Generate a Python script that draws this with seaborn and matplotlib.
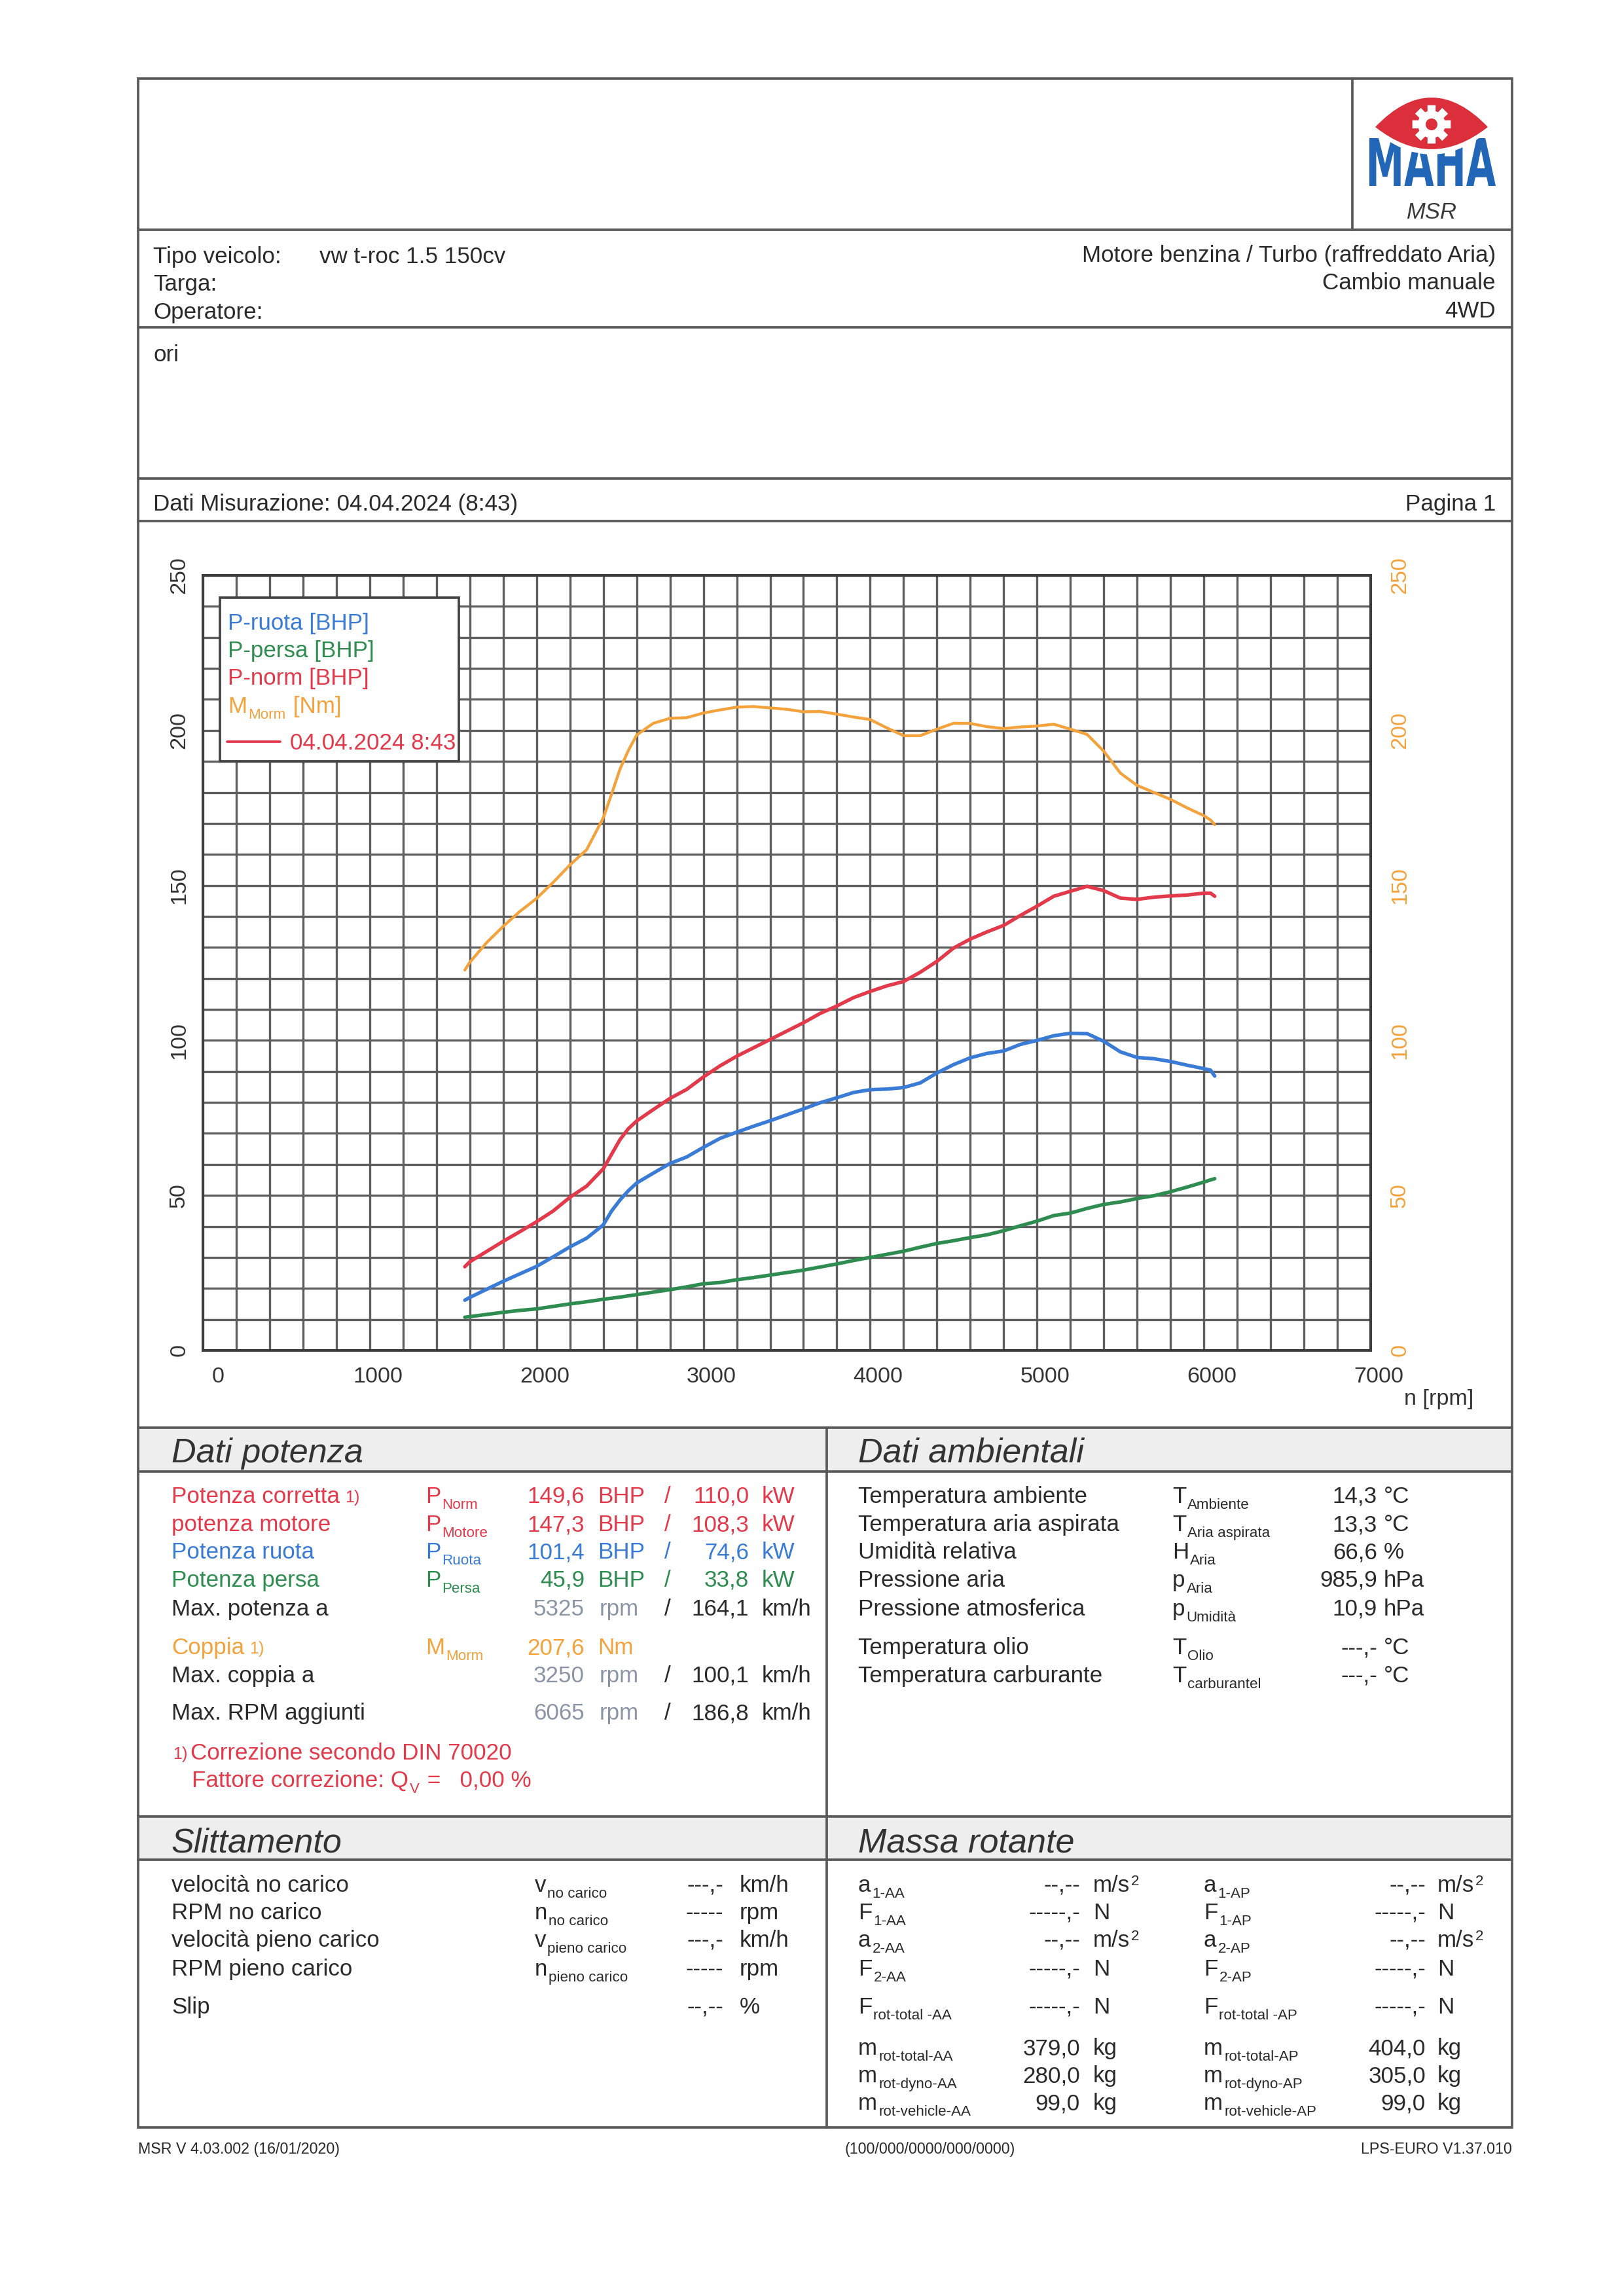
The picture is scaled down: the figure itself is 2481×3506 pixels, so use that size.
import numpy as np
import seaborn as sns
import matplotlib
matplotlib.use('Agg')
import matplotlib.pyplot as plt
from matplotlib.patches import Rectangle, Polygon, PathPatch, Circle
from matplotlib.path import Path
from matplotlib.textpath import TextPath
from matplotlib.font_manager import FontProperties
from matplotlib.transforms import Affine2D, ScaledTranslation
from matplotlib.lines import Line2D

# ---- curve data ----
rpm = [1570, 1600, 1700, 1800, 1900, 2000, 2100, 2200, 2300, 2400, 2450, 2500,
       2550, 2600, 2700, 2800, 2900, 3000, 3100, 3200, 3300, 3400, 3500, 3600,
       3700, 3800, 3900, 4000, 4100, 4200, 4300, 4400, 4500, 4600, 4700, 4800,
       4900, 5000, 5100, 5200, 5300, 5400, 5500, 5600, 5700, 5800, 5900, 6000,
       6040, 6065]
p_ruota = [16.2, 17.1, 19.7, 22.3, 24.7, 27.1, 30.2, 33.4, 36.2, 40.5, 45.0, 48.5,
           51.5, 54.0, 57.2, 60.3, 62.4, 65.5, 68.4, 70.4, 72.3, 74.1, 76.0, 77.9,
           79.9, 81.5, 83.2, 84.1, 84.3, 84.8, 86.3, 89.5, 92.2, 94.4, 95.8, 96.6,
           98.7, 100.0, 101.5, 102.3, 102.2, 99.7, 96.3, 94.5, 94.1, 93.2, 92.0, 90.9,
           90.4, 88.5]
p_persa = [10.7, 10.9, 11.6, 12.3, 12.9, 13.4, 14.2, 15.0, 15.7, 16.5, 16.85, 17.2,
           17.6, 18.0, 18.8, 19.6, 20.5, 21.5, 21.9, 22.8, 23.5, 24.3, 25.1, 25.9,
           26.9, 27.9, 29.0, 30.0, 31.0, 32.0, 33.3, 34.5, 35.4, 36.4, 37.3, 38.6,
           40.2, 41.7, 43.5, 44.3, 45.8, 47.1, 47.9, 49.0, 49.9, 51.2, 52.7, 54.3,
           55.0, 55.4]
p_norm = [27.0, 28.6, 31.9, 35.2, 38.3, 41.5, 45.0, 49.4, 53.0, 58.6, 63.3, 68.0,
          71.5, 74.0, 77.7, 81.3, 84.2, 88.2, 91.8, 94.9, 97.6, 100.3, 103.0, 105.7,
          108.7, 111.1, 113.8, 115.8, 117.6, 119.0, 122.0, 125.5, 129.8, 132.7, 135.0, 137.1,
          140.3, 143.3, 146.5, 148.1, 149.7, 148.3, 145.9, 145.5, 146.2, 146.6, 146.9, 147.5,
          147.5, 146.5]
m_norm = [122.7, 125.2, 131.5, 136.8, 141.6, 145.8, 151.0, 156.6, 161.5, 171.8, 179.5, 187.5,
          193.5, 198.5, 202.3, 203.9, 204.1, 205.6, 206.6, 207.5, 207.7, 207.25, 206.8, 206.0,
          206.1, 205.25, 204.3, 203.5, 200.8, 198.3, 198.3, 200.4, 202.3, 202.25, 201.2, 200.6,
          201.1, 201.4, 202.0, 200.4, 198.7, 193.3, 186.2, 182.25, 180.0, 177.75, 175.0, 172.5,
          171.1, 169.6]

x_ticks = [0, 1000, 2000, 3000, 4000, 5000, 6000, 7000]
y_ticks = [0, 50, 100, 150, 200, 250]

W, H, DPI = 2481, 3506, 300
sns.set_style('white')
plt.rcParams['font.family'] = ['Liberation Sans', 'DejaVu Sans']

FS = 8.4
INK = '#2a2a2a'
RED = '#e23a4b'
BLUE = '#3a7bd6'
GREEN = '#2f8c50'
ORANGE = '#f3a23c'
GRAYV = '#8b95a6'
LINE = '#5a5a5a'

fig = plt.figure(figsize=(W / DPI, H / DPI), dpi=DPI)
fig.patch.set_facecolor('white')
bg = fig.add_axes([0, 0, 1, 1])
bg.set_xlim(0, W)
bg.set_ylim(H, 0)
bg.axis('off')
renderer = fig.canvas.get_renderer()


def T(x, y, s, ha='left', color=INK, size=FS, host=None, z=3, **kw):
    # y is the visual centre of capital letters
    host = host or bg
    return host.text(x, y + 12, s, ha=ha, va='baseline', color=color, fontsize=size,
                     transform=bg.transData, zorder=z, clip_on=False, **kw)


def chain(x, y, parts, color=INK, size=FS, host=None, z=3):
    # text pieces with subscripts, placed one after another
    host = host or bg
    cx = x
    for s, kind in parts:
        dy, fs = 0, size
        if kind == 'sub':
            dy, fs = 9, size * 0.64
        elif kind == 'sup':
            dy, fs = -10, size * 0.64
        elif kind == 'small':
            dy, fs = -1, size * 0.72
        t = host.text(cx, y + 12 + dy, s, ha='left', va='baseline', color=color,
                      fontsize=fs, transform=bg.transData, zorder=z, clip_on=False)
        cx = t.get_window_extent(renderer).x1 + 2
    return cx


def hline(y, x0=211, x1=2310):
    bg.plot([x0, x1], [y, y], color=LINE, lw=0.9)


def vline(x, y0, y1):
    bg.plot([x, x], [y0, y1], color=LINE, lw=0.9)


# ---- page frame ----
bg.add_patch(Rectangle((211, 2181), 2099, 67, fc='#eeeeee', ec='none'))
bg.add_patch(Rectangle((211, 2775), 2099, 66, fc='#eeeeee', ec='none'))
bg.add_patch(Rectangle((211, 120), 2099, 3130, fill=False, ec=LINE, lw=0.9))
for yy in [351, 500, 731, 796, 2181, 2248, 2775, 2841]:
    hline(yy)
vline(2066, 120, 351)
vline(1263, 2181, 3250)

# ---- logo ----
tp = TextPath((0, 0), 'MAHA', size=100, prop=FontProperties(family='DejaVu Sans', weight='bold'))
ext = tp.get_extents()
tr = Affine2D().translate(-ext.x0, -ext.y0).scale(193 / ext.width, -73 / ext.height).translate(2092, 284)
bg.add_patch(PathPatch(tr.transform_path(tp), fc='#2266b8', ec='none', zorder=4))


def lens(x0, x1, yc, ytop, ybot):
    xm = (x0 + x1) / 2
    verts = [(x0, yc), (xm, 2 * ytop - yc), (x1, yc), (xm, 2 * ybot - yc), (x0, yc), (x0, yc)]
    codes = [Path.MOVETO, Path.CURVE3, Path.CURVE3, Path.CURVE3, Path.CURVE3, Path.CLOSEPOLY]
    return Path(verts, codes)


bg.add_patch(PathPatch(lens(2093, 2281, 194, 142, 236), fc='white', ec='none', zorder=5))
bg.add_patch(PathPatch(lens(2101, 2273, 194, 149, 228), fc='#dc2f3c', ec='none', zorder=6))
gear = []
for k in range(8):
    base = k * 45
    for da, r in [(-17, 21), (-12, 30), (12, 30), (17, 21)]:
        a = np.deg2rad(base + da)
        gear.append((2187 + r * np.cos(a), 190 + r * np.sin(a)))
bg.add_patch(Polygon(gear, closed=True, fc='white', ec='none', zorder=7))
bg.add_patch(Circle((2187, 190), 9, fc='#dc2f3c', ec='none', zorder=8))
T(2187, 322, 'MSR', ha='center', size=8.3, color='#3a3a3a', style='italic')

# ---- header info ----
T(234, 390, 'Tipo veicolo:')
T(488, 390, 'vw t-roc 1.5 150cv')
T(234, 432, 'Targa:')
T(234, 475, 'Operatore:')
T(2285, 388, 'Motore benzina / Turbo (raffreddato Aria)', ha='right')
T(2285, 430, 'Cambio manuale', ha='right')
T(2285, 473, '4WD', ha='right')
T(234, 540, 'ori')
T(234, 768, 'Dati Misurazione: 04.04.2024 (8:43)')
T(2285, 768, 'Pagina 1', ha='right')

# ---- chart ----
ax = fig.add_axes([310 / W, 1 - 2063 / H, 1784 / W, 1184 / H])
ax2 = ax.twinx()
sns.lineplot(x=rpm, y=p_persa, ax=ax, color=GREEN, lw=1.3, estimator=None, sort=False)
sns.lineplot(x=rpm, y=p_ruota, ax=ax, color=BLUE, lw=1.3, estimator=None, sort=False)
sns.lineplot(x=rpm, y=p_norm, ax=ax, color=RED, lw=1.3, estimator=None, sort=False)
sns.lineplot(x=rpm, y=m_norm, ax=ax2, color=ORANGE, lw=1.05, estimator=None, sort=False)

for a in (ax, ax2):
    a.set_xlim(0, 7000)
    a.set_ylim(0, 250)
    for s in a.spines.values():
        s.set_color('#3c3c3c')
        s.set_linewidth(0.9)
ax.set_xticks(x_ticks)
ax.set_xticks(np.arange(0, 7001, 200), minor=True)
ax.set_yticks(y_ticks)
ax.set_yticks(np.arange(0, 251, 10), minor=True)
ax.grid(True, which='both', color='#5e5e5e', lw=0.8)
ax.set_axisbelow(True)
ax.set_xticklabels([str(v) for v in x_ticks], fontsize=8.2, color='#333333')
ax.set_yticklabels([str(v) for v in y_ticks], fontsize=8.2, color='#333333', rotation=90, va='center')
ax.tick_params(which='both', length=0)
ax.tick_params(axis='x', pad=6)
ax.tick_params(axis='y', pad=5)
ax2.set_yticks(y_ticks)
ax2.set_yticklabels([str(v) for v in y_ticks], fontsize=8.2, color=ORANGE, rotation=90, va='center')
ax2.tick_params(which='both', length=0, pad=7)
ax2.grid(False)
ax.set_xlabel('')
ax.set_ylabel('')

# the printed rpm labels sit a little right of their grid lines
for lab in ax.get_xticklabels():
    dx = 5.5 if lab.get_text() == '0' else 2.9
    lab.set_transform(lab.get_transform() + ScaledTranslation(dx / 72, 0, fig.dpi_scale_trans))

T(2251, 2134, 'n [rpm]', ha='right', size=8.2, color='#333333')

# legend box
ax2.add_patch(Rectangle((336, 913), 365, 250, transform=bg.transData, fc='white', ec='#444444',
                        lw=0.9, zorder=10, clip_on=False))
chain(348, 950, [('P-ruota [BHP]', 'n')], color=BLUE, host=ax2, z=11)
chain(348, 992, [('P-persa [BHP]', 'n')], color=GREEN, host=ax2, z=11)
chain(348, 1034, [('P-norm [BHP]', 'n')], color=RED, host=ax2, z=11)
chain(348, 1077, [('M', 'n'), ('Morm', 'sub'), (' [Nm]', 'n')], color=ORANGE, host=ax2, z=11)
ax2.add_artist(Line2D([347, 428], [1133, 1133], transform=bg.transData, color=RED, lw=0.9,
                      zorder=11, clip_on=False))
T(443, 1133, '04.04.2024 8:43', color=RED, host=ax2, z=11)
ax.set_xlim(0, 7000)
ax.set_ylim(0, 250)
ax2.set_ylim(0, 250)

# ---- Dati potenza / Dati ambientali ----
bg.text(262, 2234, 'Dati potenza', fontsize=12.5, style='italic', color='#333333', va='baseline')
bg.text(1311, 2234, 'Dati ambientali', fontsize=12.5, style='italic', color='#333333', va='baseline')

rows = [2284, 2327, 2369, 2412]
power = [
    ('Potenza corretta', 'Norm', '149,6', '110,0', RED, True),
    ('potenza motore', 'Motore', '147,3', '108,3', RED, False),
    ('Potenza ruota', 'Ruota', '101,4', '74,6', BLUE, False),
    ('Potenza persa', 'Persa', '45,9', '33,8', GREEN, False),
]
for yy, (lab, sub, bhp, kw, col, note) in zip(rows, power):
    end = chain(262, yy, [(lab, 'n')], color=col)
    if note:
        chain(end + 6, yy, [('1)', 'small')], color=col)
    chain(650, yy, [('P', 'n'), (sub, 'sub')], color=col)
    T(893, yy, bhp, ha='right', color=col)
    T(913, yy, 'BHP', color=col)
    T(1020, yy, '/', ha='center', color=col)
    T(1144, yy, kw, ha='right', color=col)
    T(1164, yy, 'kW', color=col)

for yy, lab, r_val, kmh in [(2456, 'Max. potenza a', '5325', '164,1'),
                            (2558, 'Max. coppia a', '3250', '100,1'),
                            (2615, 'Max. RPM aggiunti', '6065', '186,8')]:
    T(262, yy, lab)
    T(893, yy, r_val, ha='right', color=GRAYV)
    T(916, yy, 'rpm', color=GRAYV)
    T(1020, yy, '/', ha='center')
    T(1144, yy, kmh, ha='right')
    T(1164, yy, 'km/h')

end = chain(262, 2515, [('Coppia', 'n')], color=ORANGE)
chain(end + 6, 2515, [('1)', 'small')], color=ORANGE)
chain(650, 2515, [('M', 'n'), ('Morm', 'sub')], color=ORANGE)
T(893, 2515, '207,6', ha='right', color=ORANGE)
T(913, 2515, 'Nm', color=ORANGE)

chain(264, 2676, [('1)', 'small')], color=RED)
T(291, 2676, 'Correzione secondo DIN 70020', color=RED)
chain(293, 2718, [('Fattore correzione: Q', 'n'), ('V', 'sub'), (' =   0,00 %', 'n')], color=RED)

amb_rows = [2284, 2327, 2369, 2412, 2456, 2515, 2558]
amb = [
    ('Temperatura ambiente', 'T', 'Ambiente', '14,3', '°C'),
    ('Temperatura aria aspirata', 'T', 'Aria aspirata', '13,3', '°C'),
    ('Umidità relativa', 'H', 'Aria', '66,6', '%'),
    ('Pressione aria', 'p', 'Aria', '985,9', 'hPa'),
    ('Pressione atmosferica', 'p', 'Umidità', '10,9', 'hPa'),
    ('Temperatura olio', 'T', 'Olio', '---,-', '°C'),
    ('Temperatura carburante', 'T', 'carburantel', '---,-', '°C'),
]
for yy, (lab, s1, s2, val, unit) in zip(amb_rows, amb):
    T(1311, yy, lab)
    chain(1791, yy, [(s1, 'n'), (s2, 'sub')])
    T(2104, yy, val, ha='right')
    T(2114, yy, unit)

# ---- Slittamento / Massa rotante ----
bg.text(262, 2830, 'Slittamento', fontsize=12.5, style='italic', color='#333333', va='baseline')
bg.text(1311, 2830, 'Massa rotante', fontsize=12.5, style='italic', color='#333333', va='baseline')

slip_rows = [2878, 2920, 2962, 3006, 3064]
slip = [
    ('velocità no carico', 'v', 'no carico', '---,-', 'km/h'),
    ('RPM no carico', 'n', 'no carico', '-----', 'rpm'),
    ('velocità pieno carico', 'v', 'pieno carico', '---,-', 'km/h'),
    ('RPM pieno carico', 'n', 'pieno carico', '-----', 'rpm'),
    ('Slip', '', '', '--,--', '%'),
]
for yy, (lab, s1, s2, val, unit) in zip(slip_rows, slip):
    T(262, yy, lab)
    if s1:
        chain(817, yy, [(s1, 'n'), (s2, 'sub')])
    T(1105, yy, val, ha='right')
    T(1130, yy, unit)

mass_rows = [2878, 2920, 2962, 3006, 3064, 3127, 3169, 3211]
mass_aa = [
    ('a', '1-AA', '--,--', 'm/s2'), ('F', '1-AA', '-----,-', 'N'),
    ('a', '2-AA', '--,--', 'm/s2'), ('F', '2-AA', '-----,-', 'N'),
    ('F', 'rot-total -AA', '-----,-', 'N'), ('m', 'rot-total-AA', '379,0', 'kg'),
    ('m', 'rot-dyno-AA', '280,0', 'kg'), ('m', 'rot-vehicle-AA', '99,0', 'kg'),
]
mass_ap = [
    ('a', '1-AP', '--,--', 'm/s2'), ('F', '1-AP', '-----,-', 'N'),
    ('a', '2-AP', '--,--', 'm/s2'), ('F', '2-AP', '-----,-', 'N'),
    ('F', 'rot-total -AP', '-----,-', 'N'), ('m', 'rot-total-AP', '404,0', 'kg'),
    ('m', 'rot-dyno-AP', '305,0', 'kg'), ('m', 'rot-vehicle-AP', '99,0', 'kg'),
]
for x_sym, x_val, x_unit, block in [(1311, 1650, 1670, mass_aa), (1839, 2178, 2196, mass_ap)]:
    for yy, (s1, s2, val, unit) in zip(mass_rows, block):
        chain(x_sym, yy, [(s1, 'n'), (s2, 'sub')])
        T(x_val, yy, val, ha='right')
        if unit == 'm/s2':
            chain(x_unit, yy, [('m/s', 'n'), ('2', 'sup')])
        else:
            T(x_unit, yy, unit)

# ---- footer ----
bg.text(211, 3290, 'MSR V 4.03.002 (16/01/2020)', fontsize=5.6, color=INK, va='baseline')
bg.text(1421, 3290, '(100/000/0000/000/0000)', fontsize=5.6, color=INK, va='baseline', ha='center')
bg.text(2310, 3290, 'LPS-EURO V1.37.010', fontsize=5.6, color=INK, va='baseline', ha='right')

fig.savefig('out.png', dpi=DPI, facecolor='white')
